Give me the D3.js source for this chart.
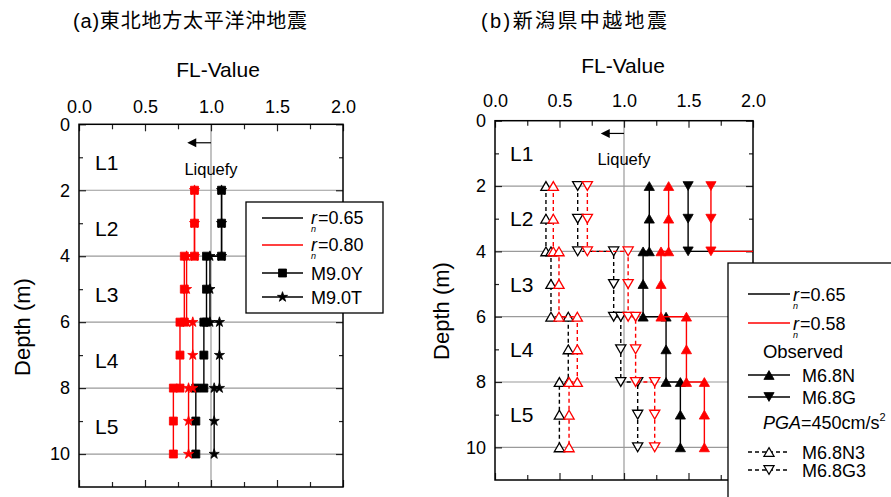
<!DOCTYPE html>
<html>
<head>
<meta charset="utf-8">
<script src="https://cdn.jsdelivr.net/npm/d3@7"></script>
<style>
  body { margin: 0; background: #fff; }
  text { font-family: "Liberation Sans", Arial, sans-serif; }
</style>
</head>
<body>
<div id="canvas"></div>
<script>
"use strict"

let svgWidth = 891
let svgHeight = 497

// shared axis values
let xMajorTicks = [0, 0.5, 1.0, 1.5, 2.0]
let xMinorTicks = [0.25, 0.75, 1.25, 1.75]
let depthTicks = [0, 2, 4, 6, 8, 10]
let depthMinorTicks = [1, 3, 5, 7, 9]
let layerNames = ["L1", "L2", "L3", "L4", "L5"]
let layerMid = [1, 3, 5, 7, 9]
// depth of top / middle / bottom of layers L2..L5
let layerDepths = [[2, 3, 4], [4, 5, 6], [6, 7, 8], [8, 9, 10]]

// (a) Tohoku: FL per layer L2..L5
let tohokuY065 = [1.08, 0.966, 0.946, 0.885]
let tohokuT065 = [1.08, 0.992, 1.064, 1.024]
let tohokuY080 = [0.875, 0.798, 0.765, 0.715]
let tohokuT080 = [0.875, 0.815, 0.862, 0.83]

// (b) Chuetsu: FL per layer L2..L5 (G observed runs off the axis below L2)
let chuetsuN065 = [1.196, 1.148, 1.326, 1.437]
let chuetsuN058 = [1.346, 1.287, 1.484, 1.623]
let chuetsuG065 = [1.497, 2.4, 2.4, 2.4]
let chuetsuG058 = [1.674, 2.4, 2.4, 2.4]
let chuetsuN3065 = [0.395, 0.434, 0.568, 0.499]
let chuetsuN3058 = [0.452, 0.496, 0.638, 0.574]
let chuetsuG3065 = [0.641, 0.92, 0.975, 1.106]
let chuetsuG3058 = [0.716, 1.032, 1.09, 1.238]

let svg = d3.select("#canvas")
    .append("svg")
    .attr("width", svgWidth)
    .attr("height", svgHeight)

svg.append("rect")
    .attr("width", svgWidth)
    .attr("height", svgHeight)
    .attr("fill", "white")

// marker shapes, centred on their bounding box
let triUp = "M0,-4.4L5.1,4.4L-5.1,4.4Z"
let triDown = "M0,4.4L5.1,-4.4L-5.1,-4.4Z"
let square = "M-4,-4H4V4H-4Z"
let star = d3.symbol(d3.symbolStar, 32)()

function stepPoints(values) {
    let pts = []
    values.forEach(function (v, i) {
        layerDepths[i].forEach(function (d) {
            pts.push({ x: v, depth: d })
        })
    })
    return pts
}

function drawPanel(panel) {
    let xScale = d3.scaleLinear()
        .domain([0, 2])
        .range([panel.left, panel.right])
    let yScale = d3.scaleLinear()
        .domain([0, 11])
        .range([panel.top, panel.bottom])

    let g = svg.append("g")

    let clipId = "clip" + panel.id
    g.append("clipPath").attr("id", clipId)
        .append("rect")
        .attr("x", panel.left)
        .attr("y", panel.top)
        .attr("width", panel.right - panel.left)
        .attr("height", panel.bottom - panel.top)

    /* gridlines */
    g.selectAll("line.hgrid")
        .data(depthTicks.slice(1))
        .enter()
        .append("line")
        .attr("class", "hgrid")
        .attr("x1", panel.left)
        .attr("x2", panel.right)
        .attr("y1", d => yScale(d))
        .attr("y2", d => yScale(d))
        .attr("stroke", "#9a9a9a")
        .attr("stroke-width", 1.2)
    g.append("line")
        .attr("x1", xScale(1))
        .attr("x2", xScale(1))
        .attr("y1", panel.top)
        .attr("y2", panel.bottom)
        .attr("stroke", "#9a9a9a")
        .attr("stroke-width", 1.2)

    /* axes: ticks pointing inward */
    let topMajor = d3.axisTop(xScale).tickValues(xMajorTicks).tickSize(-7).tickPadding(panel.xPad)
        .tickFormat(d3.format(".1f"))
    let topMinor = d3.axisTop(xScale).tickValues(xMinorTicks).tickSize(-5).tickFormat("")
    let botMajor = d3.axisBottom(xScale).tickValues(xMajorTicks).tickSize(-7).tickFormat("")
    let botMinor = d3.axisBottom(xScale).tickValues(xMinorTicks).tickSize(-5).tickFormat("")
    let leftMajor = d3.axisLeft(yScale).tickValues(depthTicks).tickSize(-7).tickPadding(9)
    let leftMinor = d3.axisLeft(yScale).tickValues(depthMinorTicks).tickSize(-4).tickFormat("")
    let rightMajor = d3.axisRight(yScale).tickValues(depthTicks).tickSize(-7).tickFormat("")
    let rightMinor = d3.axisRight(yScale).tickValues(depthMinorTicks).tickSize(-4).tickFormat("")

    let axisDefs = [
        [topMajor, `translate(0,${panel.top})`],
        [topMinor, `translate(0,${panel.top})`],
        [botMajor, `translate(0,${panel.bottom})`],
        [botMinor, `translate(0,${panel.bottom})`],
        [leftMajor, `translate(${panel.left},0)`],
        [leftMinor, `translate(${panel.left},0)`],
        [rightMajor, `translate(${panel.right},0)`],
        [rightMinor, `translate(${panel.right},0)`]
    ]
    axisDefs.forEach(function (a) {
        let ax = g.append("g")
            .attr("transform", a[1])
            .call(a[0])
        ax.select(".domain").remove()
        ax.selectAll(".tick line").attr("stroke", "#222").attr("stroke-width", 1.2)
        ax.selectAll(".tick text")
            .attr("font-size", 18)
            .attr("font-family", "Liberation Sans, Arial, sans-serif")
            .attr("fill", "black")
    })

    /* frame */
    g.append("rect")
        .attr("x", panel.left)
        .attr("y", panel.top)
        .attr("width", panel.right - panel.left)
        .attr("height", panel.bottom - panel.top)
        .attr("fill", "none")
        .attr("stroke", "black")
        .attr("stroke-width", 1.5)

    /* layer labels */
    g.selectAll("text.layer")
        .data(layerNames)
        .enter()
        .append("text")
        .attr("class", "layer")
        .attr("x", panel.layerX)
        .attr("y", (d, i) => yScale(layerMid[i] + panel.layerShift))
        .attr("dy", "0.36em")
        .attr("font-size", 21)
        .text(d => d)

    /* liquefy arrow */
    g.append("line")
        .attr("x1", xScale(1))
        .attr("x2", xScale(0.86))
        .attr("y1", yScale(panel.arrowDepth))
        .attr("y2", yScale(panel.arrowDepth))
        .attr("stroke", "black")
        .attr("stroke-width", 1.2)
    g.append("path")
        .attr("d", `M${xScale(0.82)},${yScale(panel.arrowDepth)}l9,-4.5v9Z`)
        .attr("fill", "black")
    g.append("text")
        .attr("x", xScale(1))
        .attr("y", yScale(panel.liquefyDepth))
        .attr("text-anchor", "middle")
        .attr("font-family", "DejaVu Sans, sans-serif")
        .attr("font-size", 16.5)
        .text("Liquefy")

    /* series: step profiles */
    let line = d3.line()
        .x(d => xScale(d.x))
        .y(d => yScale(d.depth))

    let plot = g.append("g").attr("clip-path", `url(#${clipId})`)
    panel.series.forEach(function (s) {
        let pts = stepPoints(s.values)
        plot.append("path")
            .datum(pts)
            .attr("d", line)
            .attr("fill", "none")
            .attr("stroke", s.color)
            .attr("stroke-width", 1.4)
            .attr("stroke-dasharray", s.dashed ? "4,3" : null)
        plot.selectAll(null)
            .data(pts)
            .enter()
            .append("path")
            .attr("transform", d => `translate(${xScale(d.x)},${yScale(d.depth)})`)
            .attr("d", s.shape)
            .attr("fill", s.open ? "white" : s.color)
            .attr("stroke", s.color)
            .attr("stroke-width", s.open ? 1.3 : 0.8)
    })

    /* axis titles */
    g.append("text")
        .attr("x", panel.xTitle[0])
        .attr("y", panel.xTitle[1])
        .attr("text-anchor", "middle")
        .attr("font-size", 21)
        .text("FL-Value")
    g.append("text")
        .attr("transform", `translate(${panel.yTitle[0]},${panel.yTitle[1]}) rotate(-90)`)
        .attr("text-anchor", "middle")
        .attr("font-size", 22)
        .text("Depth (m)")

    /* panel title */
    let title = g.append("text")
        .attr("x", panel.title[0])
        .attr("y", panel.title[1])
        .attr("font-size", 20)
        .attr("textLength", panel.title[2])
        .attr("lengthAdjust", "spacing")
    title.append("tspan").text(panel.titleTag)
    title.append("tspan")
        .attr("font-family", "Noto Sans CJK JP")
        .text(panel.titleText)

    return { x: xScale, y: yScale }
}

drawPanel({
    id: "a",
    left: 79, right: 343, top: 124.3, bottom: 487,
    xPad: 11,
    layerX: 95, layerShift: 0.15,
    arrowDepth: 0.56, liquefyDepth: 1.53,
    xTitle: [218, 77], yTitle: [30, 327],
    title: [73, 28, 234], titleTag: "(a)", titleText: "東北地方太平洋沖地震",
    series: [
        { values: tohokuY065, color: "black", shape: square },
        { values: tohokuT065, color: "black", shape: star },
        { values: tohokuY080, color: "red", shape: square },
        { values: tohokuT080, color: "red", shape: star }
    ]
})

drawPanel({
    id: "b",
    left: 495, right: 753, top: 120.7, bottom: 480,
    xPad: 14,
    layerX: 510, layerShift: 0,
    arrowDepth: 0.39, liquefyDepth: 1.37,
    xTitle: [623, 73], yTitle: [449, 311],
    title: [481, 28, 186], titleTag: "(b)", titleText: "新潟県中越地震",
    series: [
        { values: chuetsuN3065, color: "black", shape: triUp, open: true, dashed: true },
        { values: chuetsuG3065, color: "black", shape: triDown, open: true, dashed: true },
        { values: chuetsuN065, color: "black", shape: triUp },
        { values: chuetsuG065, color: "black", shape: triDown },
        { values: chuetsuN3058, color: "red", shape: triUp, open: true, dashed: true },
        { values: chuetsuG3058, color: "red", shape: triDown, open: true, dashed: true },
        { values: chuetsuN058, color: "red", shape: triUp },
        { values: chuetsuG058, color: "red", shape: triDown }
    ]
})

/* --- legends --- */
// r with subscript n, drawn as separate small texts
function rnLabel(group, x, y, value) {
    group.append("text").attr("x", x).attr("y", y).attr("font-size", 18)
        .attr("font-style", "italic").text("r")
    group.append("text").attr("x", x).attr("y", y + 8).attr("font-size", 9)
        .attr("font-style", "italic").text("n")
    group.append("text").attr("x", x + 7).attr("y", y).attr("font-size", 18)
        .text("=" + value)
}

function legendRow(group, y, x1, x2, color, shape, open, dashed) {
    group.append("line")
        .attr("x1", x1).attr("x2", x2)
        .attr("y1", y).attr("y2", y)
        .attr("stroke", color)
        .attr("stroke-width", 1.4)
        .attr("stroke-dasharray", dashed ? "4,3" : null)
    if (shape) {
        group.append("path")
            .attr("transform", `translate(${(x1 + x2) / 2},${y})`)
            .attr("d", shape)
            .attr("fill", open ? "white" : color)
            .attr("stroke", color)
            .attr("stroke-width", open ? 1.2 : 0.8)
    }
}

// left legend
let legA = svg.append("g")
legA.append("rect")
    .attr("x", 246).attr("y", 202)
    .attr("width", 137).attr("height", 111)
    .attr("fill", "white").attr("stroke", "black").attr("stroke-width", 1.3)
legendRow(legA, 218, 262, 303, "black")
rnLabel(legA, 311, 224, "0.65")
legendRow(legA, 245, 262, 303, "red")
rnLabel(legA, 311, 251, "0.80")
legendRow(legA, 273, 262, 303, "black", square)
legA.append("text").attr("x", 311).attr("y", 279.5).attr("font-size", 18).text("M9.0Y")
legendRow(legA, 297, 262, 303, "black", star)
legA.append("text").attr("x", 311).attr("y", 303.5).attr("font-size", 18).text("M9.0T")

// right legend
let legB = svg.append("g")
legB.append("rect")
    .attr("x", 728).attr("y", 263)
    .attr("width", 200).attr("height", 260)
    .attr("fill", "white").attr("stroke", "black").attr("stroke-width", 1.3)
legendRow(legB, 294, 748, 790, "black")
rnLabel(legB, 793, 301, "0.65")
legendRow(legB, 323, 748, 790, "red")
rnLabel(legB, 793, 330, "0.58")
legB.append("text").attr("x", 803).attr("y", 358).attr("text-anchor", "middle")
    .attr("font-size", 18.5).text("Observed")
legendRow(legB, 375, 748, 790, "black", triUp)
legB.append("text").attr("x", 802).attr("y", 381.5).attr("font-size", 18).text("M6.8N")
legendRow(legB, 397, 748, 790, "black", triDown)
legB.append("text").attr("x", 802).attr("y", 403.5).attr("font-size", 18).text("M6.8G")
let pga = legB.append("text").attr("x", 763).attr("y", 429).attr("font-size", 18)
pga.append("tspan").attr("font-style", "italic").text("PGA")
pga.append("tspan").text("=450cm/s")
pga.append("tspan").attr("font-size", 11).attr("dy", -8).text("2")
legendRow(legB, 452, 748, 790, "black", triUp, true, true)
legB.append("text").attr("x", 802).attr("y", 458.5).attr("font-size", 18).text("M6.8N3")
legendRow(legB, 470, 748, 790, "black", triDown, true, true)
legB.append("text").attr("x", 802).attr("y", 476.5).attr("font-size", 18).text("M6.8G3")
</script>
</body>
</html>
